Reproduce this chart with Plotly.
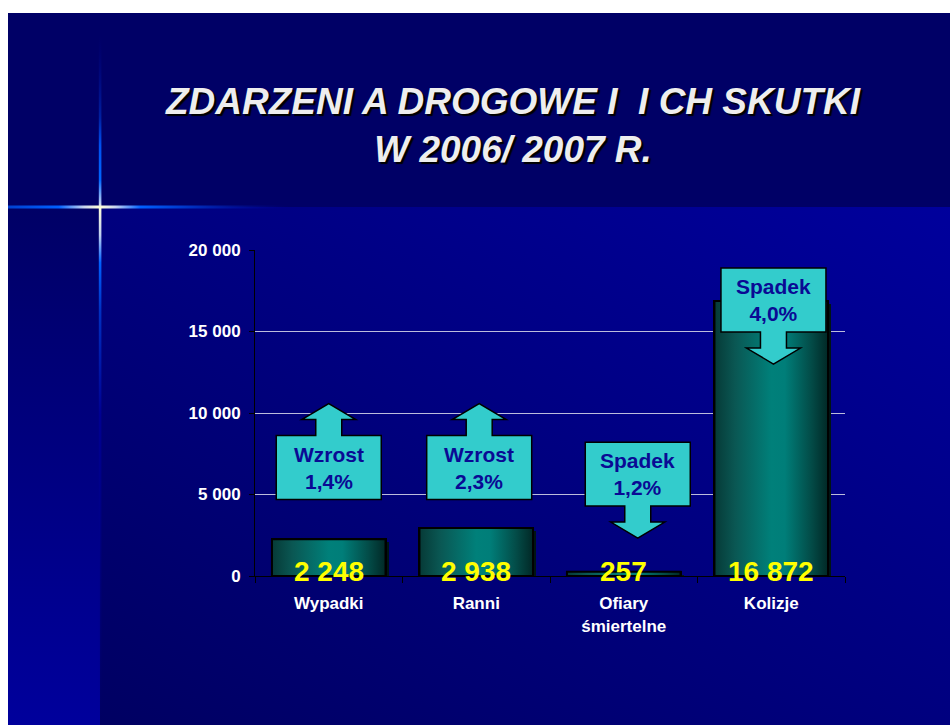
import base64
import plotly.graph_objects as go

# ---------------- data ----------------
CATEGORIES = ["Wypadki", "Ranni", "Ofiary<br>śmiertelne", "Kolizje"]
VALUES = [2248, 2938, 257, 16872]
CHANGE_PCT = [1.4, 2.3, -1.2, -4.0]
Y_TICKS = [0, 5000, 10000, 15000, 20000]
TITLE_LINES = ["ZDARZENI A DROGOWE I\u00a0 I CH SKUTKI", "W 2006/ 2007 R."]

# ---------------- layout constants ----------------
W, H = 950, 725
PL, PR, PT, PB = 255, 845, 250, 576          # plot area in pixels
Y_MAX = 20000
UX = 4 / (PR - PL)                           # data units per pixel (x)
UY = Y_MAX / (PB - PT)                       # data units per pixel (y)
BAR_W = 0.77
FONT = "Liberation Sans, Arial, sans-serif"

# callout placement (box centre in data units, x shift from category)
CALLOUT_Y = [6650, 6650, 6250, 16930]
CALLOUT_DX = [0.0, 0.02, 0.095, 0.015]

X = list(range(len(CATEGORIES)))

# ---------------- background (slide) as inline SVG ----------------
svg = f'''<svg xmlns="http://www.w3.org/2000/svg" width="{W}" height="{H}" viewBox="0 0 {W} {H}">
<defs>
<linearGradient id="main" x1="0" y1="1" x2="1" y2="0">
<stop offset="0" stop-color="#000062"/><stop offset="1" stop-color="#00009C"/>
</linearGradient>
<linearGradient id="left" x1="0" y1="0" x2="0" y2="1">
<stop offset="0" stop-color="#000066"/><stop offset="1" stop-color="#00009C"/>
</linearGradient>
<linearGradient id="hl" gradientUnits="userSpaceOnUse" x1="8" y1="0" x2="290" y2="0">
<stop offset="0" stop-color="#0040D0"/>
<stop offset="0.18" stop-color="#0060FF"/>
<stop offset="0.27" stop-color="#C8D4F0"/>
<stop offset="0.326" stop-color="#FFFFD8"/>
<stop offset="0.38" stop-color="#C8D4F0"/>
<stop offset="0.47" stop-color="#0060FF"/>
<stop offset="0.65" stop-color="#0030C0"/>
<stop offset="1" stop-color="#000090" stop-opacity="0"/>
</linearGradient>
<linearGradient id="vl" gradientUnits="userSpaceOnUse" x1="0" y1="35" x2="0" y2="725">
<stop offset="0" stop-color="#000080" stop-opacity="0"/>
<stop offset="0.12" stop-color="#0020A0"/>
<stop offset="0.16" stop-color="#0050F0"/>
<stop offset="0.21" stop-color="#0066FF"/>
<stop offset="0.245" stop-color="#C0D0F0"/>
<stop offset="0.249" stop-color="#FFFFD8"/>
<stop offset="0.29" stop-color="#C0D0F0"/>
<stop offset="0.33" stop-color="#0060FF"/>
<stop offset="0.40" stop-color="#0030C0"/>
<stop offset="0.55" stop-color="#000090"/>
<stop offset="1" stop-color="#000080" stop-opacity="0"/>
</linearGradient>
</defs>
<rect x="0" y="0" width="{W}" height="{H}" fill="#FFFFFF"/>
<rect x="8" y="13" width="{W-8}" height="195" fill="#000066"/>
<rect x="100" y="207" width="{W-100}" height="{H-207}" fill="url(#main)"/>
<rect x="8" y="207" width="92" height="{H-207}" fill="url(#left)"/>
<rect x="8" y="205.5" width="282" height="3" fill="url(#hl)"/>
<rect x="98.8" y="35" width="2.6" height="{H-35}" fill="url(#vl)"/>
</svg>'''
svg_uri = "data:image/svg+xml;base64," + base64.b64encode(svg.encode("utf-8")).decode("ascii")

fig = go.Figure()

# shadow of bars
fig.add_trace(go.Bar(
    x=X, y=VALUES, base=[-3 * UY] * len(X), width=BAR_W,
    offset=-BAR_W / 2 + 3 * UX, marker=dict(color="#001414", line=dict(width=0)),
    hoverinfo="skip", showlegend=False,
))
# bars
fig.add_trace(go.Bar(
    x=X, y=VALUES, width=BAR_W, offset=-BAR_W / 2,
    marker=dict(color="#007873", line=dict(color="black", width=2)),
    hoverinfo="skip", showlegend=False,
))
# cylinder-like shading of each bar, built from the values
for xi, v in zip(X, VALUES):
    x0, x1 = xi - BAR_W / 2, xi + BAR_W / 2
    fig.add_trace(go.Scatter(
        x=[x0, x1, x1, x0, x0], y=[0, 0, v, v, 0], mode="lines",
        fill="toself",
        fillgradient=dict(type="horizontal", colorscale=[
            [0.0, "#063A37"], [0.18, "#0A5753"], [0.5, "#00807A"],
            [0.62, "#007E79"], [0.85, "#034C48"], [1.0, "#012826"]]),
        line=dict(color="black", width=2),
        hoverinfo="skip", showlegend=False,
    ))

# callouts (arrow boxes)
BOX_W, BOX_H = 105 * UX, 64 * UY
STEM, HEAD = 13 * UX, 27 * UX
STEM_L, HEAD_L = 16 * UY, 16 * UY
shapes = []
annotations = []
for xi, pct, cy, dx in zip(X, CHANGE_PCT, CALLOUT_Y, CALLOUT_DX):
    cx = xi + dx
    bl, br = cx - BOX_W / 2, cx + BOX_W / 2
    yb, yt = cy - BOX_H / 2, cy + BOX_H / 2
    if pct > 0:
        s = 1
        ye = yt
    else:
        s = -1
        ye = yb
    ys = ye + s * STEM_L
    ytip = ys + s * HEAD_L
    if pct > 0:
        pts = [(bl, yb), (br, yb), (br, yt), (cx + STEM, yt), (cx + STEM, ys),
               (cx + HEAD, ys), (cx, ytip), (cx - HEAD, ys), (cx - STEM, ys),
               (cx - STEM, yt), (bl, yt)]
    else:
        pts = [(bl, yt), (br, yt), (br, yb), (cx + STEM, yb), (cx + STEM, ys),
               (cx + HEAD, ys), (cx, ytip), (cx - HEAD, ys), (cx - STEM, ys),
               (cx - STEM, yb), (bl, yb)]
    path = "M " + " L ".join(f"{px:.5f},{py:.3f}" for px, py in pts) + " Z"
    shapes.append(dict(type="path", xref="x", yref="y", path=path,
                       fillcolor="#33CCCC", line=dict(color="black", width=1.5),
                       layer="above"))
    word = "Wzrost" if pct > 0 else "Spadek"
    pct_txt = f"{abs(pct):.1f}%".replace(".", ",")
    annotations.append(dict(
        x=cx, y=cy, xref="x", yref="y", text=f"<b>{word}</b><br><b>{pct_txt}</b>",
        showarrow=False, xanchor="center", yanchor="middle",
        font=dict(family=FONT, size=21, color="#0A0A94", weight="bold"),
    ))

# value labels
for xi, v in zip(X, VALUES):
    annotations.append(dict(
        x=xi, y=0, xref="x", yref="y", text="<b>" + f"{v:,}".replace(",", " ") + "</b>",
        showarrow=False, xanchor="center", yanchor="middle", yshift=5,
        font=dict(family=FONT, size=28, color="#FFFF00"),
    ))

# title
annotations.append(dict(
    x=(513 - PL) / (PR - PL), y=(PB - 125) / (PB - PT), xref="paper", yref="paper",
    text="<b><i>" + "<br>".join(TITLE_LINES) + "</i></b>",
    showarrow=False, xanchor="center", yanchor="middle",
    font=dict(family=FONT, size=37, color="#EEEEEE", shadow="2px 2px 1px #000000"),
))

fig.update_layout(
    width=W, height=H, autosize=False,
    margin=dict(l=PL, r=W - PR, t=PT, b=H - PB, pad=0),
    paper_bgcolor="white", plot_bgcolor="rgba(0,0,0,0)",
    barmode="overlay", bargap=0, showlegend=False,
    separators=", ",
    images=[dict(source=svg_uri, xref="paper", yref="paper",
                 x=-PL / (PR - PL), y=PB / (PB - PT),
                 sizex=W / (PR - PL), sizey=H / (PB - PT),
                 xanchor="left", yanchor="top", sizing="stretch", layer="below")],
    shapes=shapes, annotations=annotations,
    xaxis=dict(range=[-0.5, 3.5], tickvals=X, ticktext=CATEGORIES, ticks="",
               showline=True, linecolor="black", linewidth=1, showgrid=False,
               zeroline=False, fixedrange=True, ticklabelstandoff=12,
               tickfont=dict(family=FONT, size=17, color="white", weight="bold"),
               minor=dict(tickvals=[-0.5, 0.5, 1.5, 2.5, 3.5], ticks="outside",
                          ticklen=6, tickcolor="black", tickwidth=1, showgrid=False)),
    yaxis=dict(range=[0, Y_MAX], tickvals=Y_TICKS, tickformat=",d", ticks="outside",
               ticklen=5, tickcolor="black", showline=True, linecolor="black",
               linewidth=1, showgrid=True, gridcolor="#BCBCDC", gridwidth=1.3,
               zeroline=False, fixedrange=True, ticklabelstandoff=5,
               tickfont=dict(family=FONT, size=17, color="white", weight="bold")),
)

fig.write_html(
    "out.html",
    config={"displayModeBar": False},
    post_script="document.body.style.margin='0';document.body.style.overflow='hidden';",
)
